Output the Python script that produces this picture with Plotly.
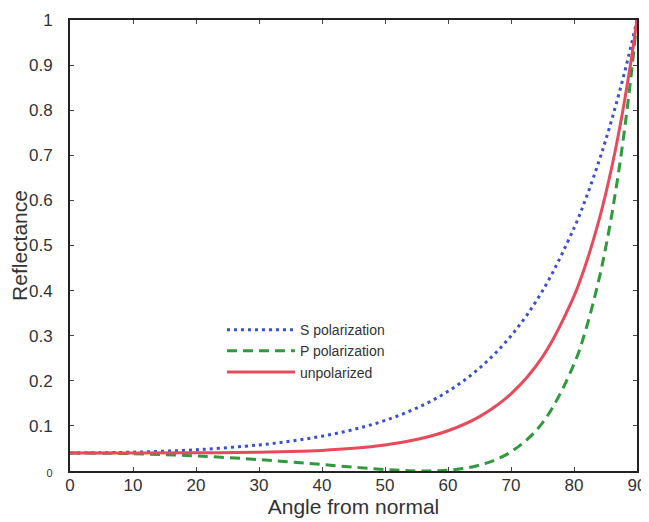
import plotly.graph_objects as go

angle = [0, 10, 20, 30, 35, 40, 45, 50, 55, 60, 65, 70, 75, 80, 82, 84, 85, 86, 87, 88, 89, 90]
s_pol = [0.0400, 0.0417, 0.0471, 0.0578, 0.0661, 0.0772, 0.0920, 0.1121, 0.1393, 0.1766,
         0.2281, 0.2996, 0.3994, 0.5386, 0.6086, 0.6884, 0.7323, 0.7793, 0.8293, 0.8826, 0.9395, 1.0]
p_pol = [0.0400, 0.0384, 0.0335, 0.0253, 0.0200, 0.0143, 0.0085, 0.0033, 0.0002, 0.0018,
         0.0130, 0.0425, 0.1068, 0.2368, 0.3193, 0.4273, 0.4932, 0.5688, 0.6555, 0.7548, 0.8689, 1.0]
unpol = [0.0400, 0.0400, 0.0403, 0.0415, 0.0431, 0.0457, 0.0503, 0.0577, 0.0697, 0.0892,
         0.1205, 0.1710, 0.2531, 0.3877, 0.4639, 0.5578, 0.6128, 0.6740, 0.7424, 0.8187, 0.9042, 1.0]

x_ticks = [0, 10, 20, 30, 40, 50, 60, 70, 80, 90]
y_ticks = [0, 0.1, 0.2, 0.3, 0.4, 0.5, 0.6, 0.7, 0.8, 0.9, 1]
y_ticktext = ['<span style="font-size:11px">0</span>', "0.1", "0.2", "0.3", "0.4", "0.5",
              "0.6", "0.7", "0.8", "0.9", "1"]

fig = go.Figure()
fig.add_trace(go.Scatter(x=angle, y=s_pol, mode="lines", name="S polarization",
                         line=dict(color="#3b4fcf", width=3, dash="3px,4px", shape="spline")))
fig.add_trace(go.Scatter(x=angle, y=p_pol, mode="lines", name="P polarization",
                         line=dict(color="#2e9a3c", width=3, dash="10px,6px", shape="spline")))
fig.add_trace(go.Scatter(x=angle, y=unpol, mode="lines", name="unpolarized",
                         line=dict(color="#e84a5c", width=3, shape="spline")))

# page body adds an 8px offset, so the figure is sized to fit the 649x522 window
fig.update_layout(
    width=641, height=514,
    margin=dict(l=62, r=12, t=12, b=51),
    paper_bgcolor="white", plot_bgcolor="white",
    font=dict(family="Liberation Sans, Arial, sans-serif", color="#333333", size=15),
    showlegend=True,
    legend=dict(x=0.268, y=0.348, xanchor="left", yanchor="top",
                bgcolor="rgba(0,0,0,0)", font=dict(size=14, color="#333333"),
                tracegroupgap=0, itemwidth=68),
    xaxis=dict(range=[0, 90], tickvals=x_ticks, ticks="inside", ticklen=4,
               showline=True, linecolor="#222222", linewidth=2, mirror="ticks",
               showgrid=False, zeroline=False, tickfont=dict(size=17), automargin=False,
               ticklabelstandoff=-2,
               title=dict(text="Angle from normal", font=dict(size=21), standoff=0)),
    yaxis=dict(range=[0, 1], tickvals=y_ticks, ticktext=y_ticktext, ticks="inside", ticklen=4,
               showline=True, linecolor="#222222", linewidth=2, mirror="ticks",
               showgrid=False, zeroline=False, tickfont=dict(size=17), ticklabelstandoff=12,
               automargin=False,
               title=dict(text="Reflectance", font=dict(size=21), standoff=0)),
)

fig.write_html("out.html")
